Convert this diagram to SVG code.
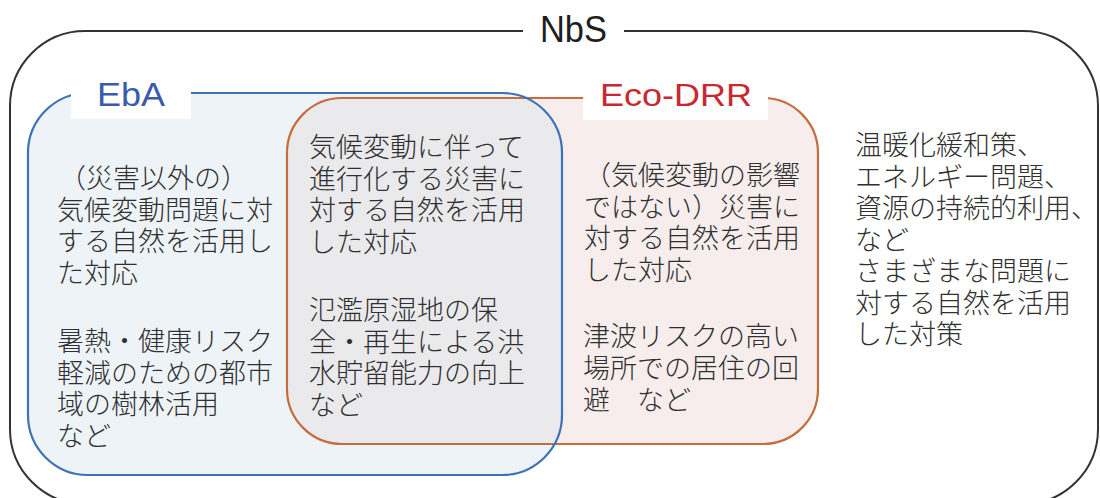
<svg xmlns="http://www.w3.org/2000/svg" width="1100" height="498" viewBox="0 0 1100 498">
<style>
.jp{font-family:"Noto Sans CJK JP","Noto Sans",sans-serif;font-size:27px;fill:#303030;font-weight:300}
.lbl{font-family:"Liberation Sans",Arial,sans-serif}
.bg{fill:#ffffff;stroke:none}
</style>
<defs>
<clipPath id="ebaClip"><rect x="28" y="93" width="534" height="382" rx="60" ry="60"/></clipPath>
</defs>
<rect width="1100" height="498" fill="#ffffff"/>
<g id="nbs">
<rect x="10" y="31" width="1088" height="473" rx="75" ry="75" fill="none" stroke="#333333" stroke-width="2"/>
<rect class="bg" x="523" y="18" width="101" height="26"/>
<text class="lbl" x="540" y="42" font-size="37" fill="#1e1e1e" textLength="67" lengthAdjust="spacingAndGlyphs">NbS</text>
<text class="jp" x="855"><tspan x="855" y="155">温暖化緩和策、</tspan><tspan x="855" y="186.5">エネルギー問題、</tspan><tspan x="855" y="218">資源の持続的利用、</tspan><tspan x="855" y="249.5">など</tspan><tspan x="855" y="281">さまざまな問題に</tspan><tspan x="855" y="312.5">対する自然を活用</tspan><tspan x="855" y="344">した対策</tspan></text>
</g>
<g id="fills">
<rect x="28" y="93" width="534" height="382" rx="60" ry="60" fill="#eef3f8"/>
<rect x="287" y="98" width="531" height="346" rx="55" ry="55" fill="#f6edec"/>
<rect x="287" y="98" width="531" height="346" rx="55" ry="55" fill="#eaeaed" clip-path="url(#ebaClip)"/>
</g>
<g id="eco-drr">
<rect x="287" y="98" width="531" height="346" rx="55" ry="55" fill="none" stroke="#c56d3c" stroke-width="2.2"/>
<rect class="bg" x="583" y="84" width="185" height="36"/>
<text class="lbl" x="600" y="106" font-size="32" fill="#c8282e" textLength="152" lengthAdjust="spacingAndGlyphs">Eco-DRR</text>
<text class="jp"><tspan x="584" y="185">（気候変動の影響</tspan><tspan x="584" y="216.5">ではない）災害に</tspan><tspan x="584" y="248">対する自然を活用</tspan><tspan x="584" y="279.5">した対応</tspan></text>
<text class="jp"><tspan x="583" y="346">津波リスクの高い</tspan><tspan x="583" y="377.5">場所での居住の回</tspan><tspan x="583" y="409.5">避　など</tspan></text>
</g>
<g id="eba">
<rect x="28" y="93" width="534" height="382" rx="60" ry="60" fill="none" stroke="#3a74b4" stroke-width="2.2"/>
<rect class="bg" x="71" y="80" width="120" height="39"/>
<text class="lbl" x="97" y="106" font-size="33" fill="#3a5bab" textLength="68" lengthAdjust="spacingAndGlyphs">EbA</text>
<text class="jp"><tspan x="59" y="188">（災害以外の）</tspan><tspan x="57" y="219.5">気候変動問題に対</tspan><tspan x="57" y="251">する自然を活用し</tspan><tspan x="57" y="283">た対応</tspan></text>
<text class="jp"><tspan x="57" y="351">暑熱・健康リスク</tspan><tspan x="57" y="382.5">軽減のための都市</tspan><tspan x="57" y="414">域の樹林活用</tspan><tspan x="57" y="446">など</tspan></text>
</g>
<g id="overlap">
<text class="jp"><tspan x="309" y="157">気候変動に伴って</tspan><tspan x="309" y="188.5">進行化する災害に</tspan><tspan x="309" y="220">対する自然を活用</tspan><tspan x="309" y="251.5">した対応</tspan></text>
<text class="jp"><tspan x="309" y="320">氾濫原湿地の保</tspan><tspan x="309" y="351.5">全・再生による洪</tspan><tspan x="309" y="383">水貯留能力の向上</tspan><tspan x="309" y="414.5">など</tspan></text>
</g>
</svg>
